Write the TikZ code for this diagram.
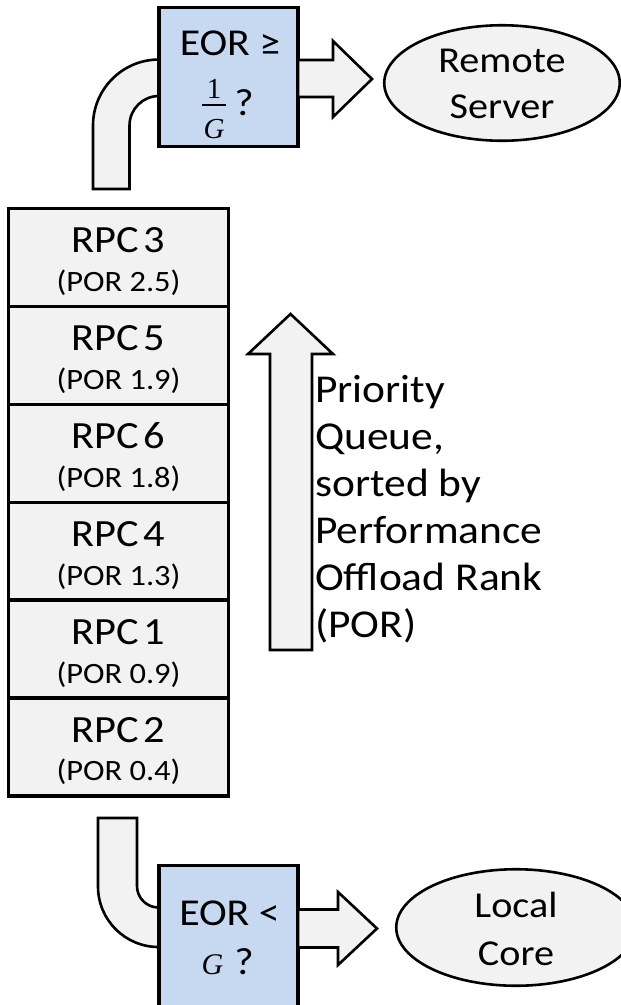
\RequirePackage{fix-cm}
\documentclass[tikz,border=0pt]{standalone}
\usepackage{fontspec}
\setmainfont{Carlito}[FakeStretch=1.1]
\newfontfamily\tightfont{Carlito}[FakeStretch=1.1, WordSpace=0.5]
\newfontfamily\symfont{Liberation Serif}
\usetikzlibrary{shapes.geometric}
\definecolor{boxblue}{HTML}{C6D9F1}
\definecolor{panelgray}{HTML}{F2F2F2}
\begin{document}
\begin{tikzpicture}[x=1pt,y=1pt,
  rpcfont/.style={font=\tightfont\fontsize{38.5}{47}\selectfont, inner sep=0pt},
  porfont/.style={font=\fontsize{29.5}{34}\selectfont, inner sep=0pt},
  decision/.style={font=\fontsize{38}{46}\selectfont, inner sep=0pt},
  gainsym/.style={font=\symfont\fontsize{29}{32}\selectfont, inner sep=0pt},
  place/.style={font=\fontsize{36.5}{46}\selectfont, inner sep=0pt},
  note/.style={font=\fontsize{39.5}{47}\selectfont, inner sep=0pt, align=left},
  slot/.style={draw, line width=3.3pt, fill=panelgray, minimum width=219.8pt,
    minimum height=97.9pt, inner sep=0pt, outer sep=0pt},
  testbox/.style={draw, line width=3.6pt, fill=boxblue, minimum width=139pt,
    inner sep=0pt, outer sep=0pt},
  flow/.style={draw, line width=2.6pt, fill=panelgray, line join=miter},
  dest/.style={ellipse, draw, line width=2.6pt, fill=panelgray, inner sep=0pt}]
\useasboundingbox (0,0) rectangle (621,-1005);
\clip (0,0) rectangle (621,-1005);

% curved feed from the head of the queue to the remote test
\draw[flow] (93,-189) -- (93,-125.5) arc[start angle=180,end angle=90,radius=66pt]
  -- (159,-96) arc[start angle=90,end angle=180,radius=29.5pt] -- (129.5,-189) -- cycle;
% curved feed from the tail of the queue to the local test
\draw[flow] (98,-818) -- (98,-886.5) arc[start angle=180,end angle=270,radius=60.5pt]
  -- (158.5,-907.5) arc[start angle=270,end angle=180,radius=21.5pt] -- (137,-818) -- cycle;

% decision boxes
\node[testbox, minimum height=139pt] (topbox) at (228.5,-77) {};
\node[testbox, minimum height=145pt] (botbox) at (228.5,-938) {};

% destinations
\node[dest, minimum width=235.5pt, minimum height=115.5pt] (remote) at (502,-83) {};
\node[dest, minimum width=239.5pt, minimum height=116.5pt] (local) at (516,-927.5) {};

% block arrows from the decisions to the destinations
\draw[flow] (topbox.east |- 0,-60) -- (333,-60) -- (333,-41) -- (372,-79)
  -- (333,-117) -- (333,-97) -- (topbox.east |- 0,-97) -- cycle;
\draw[flow] (botbox.east |- 0,-909.5) -- (338,-909.5) -- (338,-892) -- (377,-928.5)
  -- (338,-965) -- (338,-947.5) -- (botbox.east |- 0,-947.5) -- cycle;

% remote test: EOR >= 1/G ?
\node[decision, anchor=base] (topq) at (230,-55) {EOR ≥};
\node[gainsym, anchor=base] (fnum) at (214,-98) {1};
\node[gainsym, anchor=base] (fden) at (214,-138) {\itshape G};
\draw[line width=1.6pt] (202,-105) -- (226,-105);
\node[decision, anchor=base] (topmark) at (244,-115) {?};

% local test: EOR < G ?
\node[decision, anchor=base] (botq) at (229.5,-925) {EOR <};
\node[gainsym, font=\symfont\fontsize{30}{32}\selectfont, anchor=base] (gsym) at (212.5,-974) {\itshape G};
\node[decision, anchor=base] (botmark) at (244,-974) {?};

% destination texts
\node[place, anchor=base] (remote1) at (502,-72) {Remote};
\node[place, anchor=base] (remote2) at (502,-118) {Server};
\node[place, anchor=base] (local1) at (516,-917) {Local};
\node[place, anchor=base] (local2) at (516,-965) {Core};

% priority queue, highest rank on top
\foreach \i/\rpc/\por in {0/3/2.5, 1/5/1.9, 2/6/1.8, 3/4/1.3, 4/1/0.9, 5/2/0.4} {
  \node[slot] (slot\i) at (118.5,{-208.5-48.95-97.9*\i}) {};
  \node[rpcfont, anchor=base] (rpc\i) at ([yshift=4.5pt]slot\i.center) {RPC \rpc};
  \node[porfont, anchor=base] (por\i) at ([yshift=-34pt]slot\i.center) {(POR \por)};
}

% ordering arrow and its caption
\draw[flow] (270,-650) -- (270,-354) -- (248,-354) -- (290.5,-314) -- (333,-354)
  -- (312,-354) -- (312,-650) -- cycle;
\node[note, anchor=base west] (caption) at (315,-637)
  {Priority\\Queue,\\sorted by\\Performance\\Offload Rank\\(POR)};
\end{tikzpicture}
\end{document}
